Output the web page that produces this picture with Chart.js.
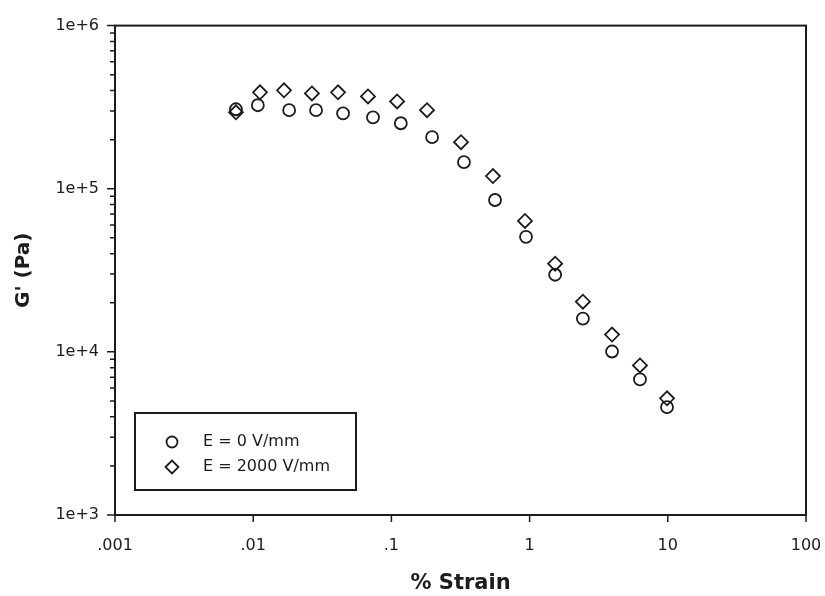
<!DOCTYPE html>
<html>
<head>
<meta charset="utf-8">
<script src="https://cdn.jsdelivr.net/npm/chart.js@4/dist/chart.umd.min.js"></script>
<style>
  html, body { margin: 0; padding: 0; background: #fff; }
  #wrap { width: 825px; height: 596px; position: relative; }
</style>
</head>
<body>
<div id="wrap"><canvas id="chart"></canvas></div>
<script>
// % strain, G' (Pa)
const strainE0 = [0.0075, 0.0108, 0.0182, 0.0285, 0.0447, 0.0736, 0.117, 0.197, 0.335, 0.562, 0.942, 1.53, 2.43, 3.95, 6.29, 9.87];
const gE0 = [307000, 325000, 303000, 303000, 290000, 274000, 252000, 207000, 145600, 85300, 50700, 29700, 16000, 10050, 6780, 4580];

const strainE2000 = [0.0075, 0.0112, 0.0167, 0.0266, 0.0411, 0.0677, 0.110, 0.181, 0.319, 0.543, 0.926, 1.53, 2.43, 3.95, 6.29, 9.87];
const gE2000 = [294000, 390000, 401000, 384000, 390000, 368000, 343000, 303000, 193000, 119600, 63500, 34700, 20300, 12770, 8260, 5190];

const seriesNames = ["E = 0 V/mm", "E = 2000 V/mm"];

const xTickValues = [0.001, 0.01, 0.1, 1, 10, 100];
const xTickLabels = [".001", ".01", ".1", "1", "10", "100"];
const yTickValues = [1e3, 1e4, 1e5, 1e6];
const yTickLabels = ["1e+3", "1e+4", "1e+5", "1e+6"];

const ink = "#1c1c1c";

const toPoints = (xs, ys) => xs.map((x, i) => ({ x: x, y: ys[i] }));

// frame, tick marks and the boxed legend
const decorations = {
  id: "decorations",
  afterDraw(chart) {
    const ctx = chart.ctx;
    const area = chart.chartArea;
    const xs = chart.scales.x;
    const ys = chart.scales.y;

    ctx.save();
    ctx.strokeStyle = ink;
    ctx.lineWidth = 2;
    ctx.strokeRect(area.left, area.top, area.right - area.left, area.bottom - area.top);

    ctx.lineWidth = 1.5;
    ctx.beginPath();
    ys.ticks.forEach(t => {
      const py = ys.getPixelForValue(t.value);
      const len = t.major ? 8 : 5;
      ctx.moveTo(area.left, py);
      ctx.lineTo(area.left - len, py);
    });
    xs.ticks.forEach(t => {
      const px = xs.getPixelForValue(t.value);
      ctx.moveTo(px, area.bottom);
      ctx.lineTo(px, area.bottom + 7);
    });
    ctx.stroke();

    // legend
    const bx = 135, by = 413, bw = 221, bh = 77;
    ctx.lineWidth = 2;
    ctx.strokeRect(bx, by, bw, bh);
    ctx.lineWidth = 1.8;
    ctx.beginPath();
    ctx.arc(bx + 37, by + 29, 5.5, 0, Math.PI * 2);
    ctx.stroke();
    const dx = bx + 37, dy = by + 54, r = 6.5;
    ctx.beginPath();
    ctx.moveTo(dx - r, dy);
    ctx.lineTo(dx, dy - r);
    ctx.lineTo(dx + r, dy);
    ctx.lineTo(dx, dy + r);
    ctx.closePath();
    ctx.stroke();

    ctx.fillStyle = ink;
    ctx.font = "16px 'DejaVu Sans'";
    ctx.textBaseline = "middle";
    ctx.textAlign = "left";
    ctx.fillText(seriesNames[0], bx + 68, by + 29);
    ctx.fillText(seriesNames[1], bx + 68, by + 54);
    ctx.restore();
  }
};

new Chart(document.getElementById("chart"), {
  type: "scatter",
  data: {
    datasets: [
      {
        label: seriesNames[0],
        data: toPoints(strainE0, gE0),
        pointStyle: "circle",
        pointRadius: 6,
        pointHoverRadius: 6,
        pointBorderWidth: 1.8,
        borderColor: ink,
        backgroundColor: "rgba(0,0,0,0)"
      },
      {
        label: seriesNames[1],
        data: toPoints(strainE2000, gE2000),
        pointStyle: "rectRot",
        pointRadius: 7,
        pointHoverRadius: 7,
        pointBorderWidth: 1.8,
        borderColor: ink,
        backgroundColor: "rgba(0,0,0,0)"
      }
    ]
  },
  options: {
    responsive: true,
    maintainAspectRatio: false,
    animation: false,
    layout: {
      padding: { top: 24, right: 19, left: 0, bottom: 0 }
    },
    plugins: {
      legend: { display: false },
      tooltip: { enabled: false }
    },
    scales: {
      x: {
        type: "logarithmic",
        min: 0.001,
        max: 100,
        afterBuildTicks: s => { s.ticks = xTickValues.map(v => ({ value: v, major: true })); },
        afterFit: s => {
          s.height = 81;
          s.paddingLeft = 0;
          s.paddingRight = 0;
        },
        grid: { display: false, drawTicks: false },
        border: { display: false },
        ticks: {
          autoSkip: false,
          maxRotation: 0,
          padding: 21,
          color: ink,
          font: { family: "DejaVu Sans", size: 16 },
          callback: (v, i) => xTickLabels[i]
        },
        title: {
          display: true,
          text: "% Strain",
          color: ink,
          font: { family: "DejaVu Sans", size: 21, weight: "bold" },
          padding: 0
        }
      },
      y: {
        type: "logarithmic",
        min: 1e3,
        max: 1e6,
        afterBuildTicks: s => {
          const ticks = [];
          yTickValues.forEach((v, k) => {
            ticks.push({ value: v, major: true });
            if (k < yTickValues.length - 1) {
              for (let m = 2; m <= 9; m++) ticks.push({ value: v * m, major: false });
            }
          });
          s.ticks = ticks;
        },
        afterFit: s => { s.width = 115; },
        grid: { display: false, drawTicks: false },
        border: { display: false },
        ticks: {
          autoSkip: false,
          padding: 16,
          color: ink,
          font: { family: "DejaVu Sans", size: 16 },
          callback: function (v, i, ticks) {
            const k = yTickValues.indexOf(v);
            return k >= 0 ? yTickLabels[k] : "";
          }
        },
        title: {
          display: true,
          text: "G' (Pa)",
          color: ink,
          font: { family: "DejaVu Sans", size: 20, weight: "bold" },
          padding: { top: 12, bottom: 0 }
        }
      }
    }
  },
  plugins: [decorations]
});
</script>
</body>
</html>
